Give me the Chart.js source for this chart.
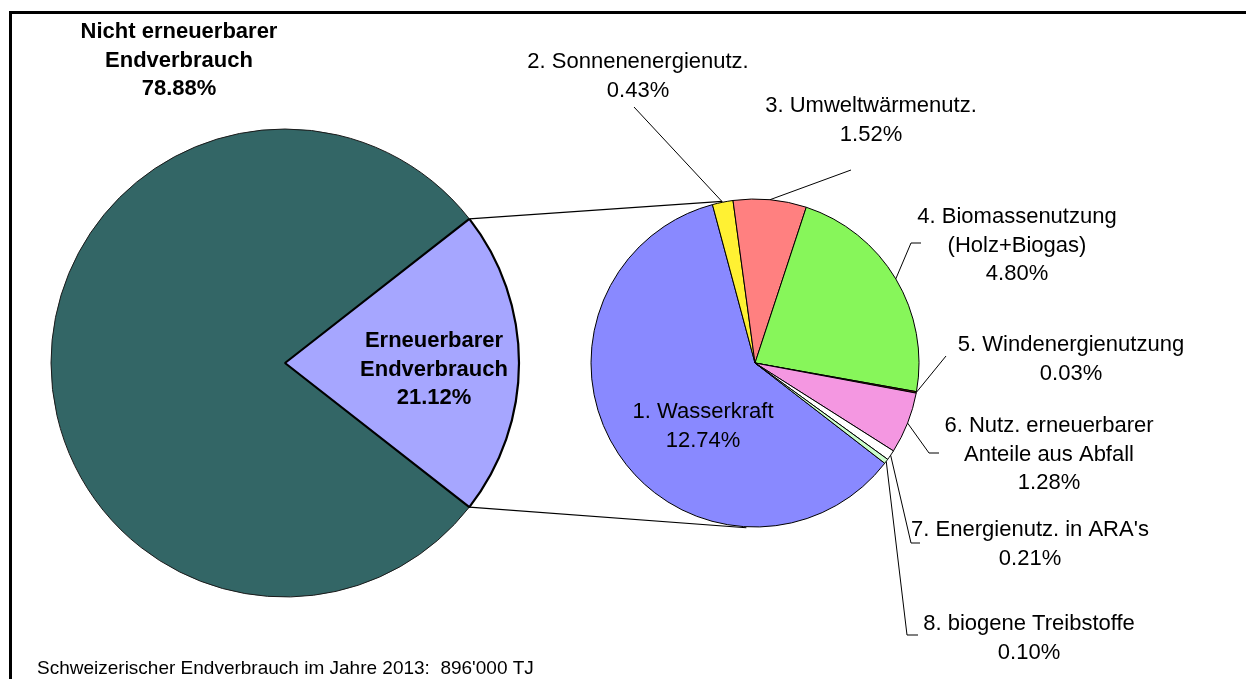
<!DOCTYPE html>
<html lang="de">
<head>
<meta charset="utf-8">
<title>Erneuerbarer Endverbrauch 2013</title>
<script src="https://cdn.jsdelivr.net/npm/chart.js@4/dist/chart.umd.min.js"></script>
<style>
  html, body { margin: 0; padding: 0; background: #ffffff; }
  #stage { position: relative; width: 1246px; height: 679px; overflow: hidden; }
  #stage canvas { position: absolute; left: 0; top: 0; }
</style>
</head>
<body>
<div id="stage">
  <canvas id="totalPie" width="1246" height="679"></canvas>
  <canvas id="renewPie" width="1246" height="679"></canvas>
</div>
<script>
// Overall final energy consumption split (percent of total)
const totalCategories = [['Nicht erneuerbarer', 'Endverbrauch'], ['Erneuerbarer', 'Endverbrauch']];
const totalShares = [78.88, 21.12];
const totalColors = ['#336666', '#A6A6FF'];

// Breakdown of the renewable part (percent of total)
const renewCategories = [
  ['1. Wasserkraft'],
  ['2. Sonnenenergienutz.'],
  ['3. Umweltwärmenutz.'],
  ['4. Biomassenutzung', '(Holz+Biogas)'],
  ['5. Windenergienutzung'],
  ['6. Nutz. erneuerbarer', 'Anteile aus Abfall'],
  ["7. Energienutz. in ARA's"],
  ['8. biogene Treibstoffe']
];
const renewShares = [12.74, 0.43, 1.52, 4.80, 0.03, 1.28, 0.21, 0.10];
const renewColors = ['#8989FF', '#FFF133', '#FF8080', '#87F65A', '#8B2500', '#F497E1', '#FFFFFF', '#CCFFCC'];

const footnote = "Schweizerischer Endverbrauch im Jahre 2013:  896'000 TJ";

const FONT = "'Liberation Sans', Arial, sans-serif";
const LINE_H = 28.7;

// Label anchor points (centre of first text line)
const totalLabelSpots = [[179, 32], [434, 341]];
const renewLabelSpots = [[703, 412], [638, 62], [871, 106], [1017, 217], [1071, 345], [1049, 426], [1030, 530], [1029, 624]];
// Leader line bends, from the slice edge towards its label
const renewLeaders = [
  null,
  [[634, 107]],
  [[851, 170]],
  [[911, 243], [921, 243]],
  [[946, 356]],
  [[929, 453], [939, 453]],
  [[911, 543], [920, 543]],
  [[907, 635], [918, 635]]
];

const pct = v => v.toFixed(2) + '%';

function drawLines(ctx, lines, x, y) {
  lines.forEach((t, i) => ctx.fillText(t, x, y + i * LINE_H));
}

function sumOf(arr) { return arr.reduce((a, b) => a + b, 0); }

// Overall pie: the renewable slice is centred on the right-hand side
const totalChart = new Chart(document.getElementById('totalPie'), {
  type: 'pie',
  data: {
    labels: totalCategories,
    datasets: [{
      data: totalShares,
      backgroundColor: totalColors,
      borderColor: ['#1a1a1a', '#000000'],
      borderWidth: [1, 2.2]
    }]
  },
  options: {
    responsive: false,
    animation: false,
    events: [],
    radius: 234,
    rotation: 90 + totalShares[1] * 360 / sumOf(totalShares) / 2,
    layout: { padding: { left: 0, right: 676, top: 63, bottom: 16 } },
    plugins: { legend: { display: false }, tooltip: { enabled: false } }
  }
});

const annotations = {
  id: 'annotations',
  beforeDatasetsDraw(chart) {
    const ctx = chart.ctx;
    ctx.save();
    // frame
    ctx.fillStyle = '#000';
    ctx.fillRect(9, 11, 1246, 3);
    ctx.fillRect(9, 11, 3, 679);

    // connectors from the renewable slice to the breakdown pie
    const big = totalChart.getDatasetMeta(0).data[1];
    const bp = big.getProps(['x', 'y', 'startAngle', 'endAngle', 'outerRadius'], true);
    const small = chart.getDatasetMeta(0).data[0];
    const sp = small.getProps(['x', 'y', 'outerRadius'], true);
    const onSmall = deg => {
      const a = (deg - 90) * Math.PI / 180;
      return [sp.x + (sp.outerRadius + 1) * Math.cos(a), sp.y + (sp.outerRadius + 1) * Math.sin(a)];
    };
    const t = onSmall(-11.5), b = onSmall(183);
    ctx.strokeStyle = '#000';
    ctx.lineWidth = 1.2;
    ctx.beginPath();
    ctx.moveTo(bp.x + bp.outerRadius * Math.cos(bp.startAngle), bp.y + bp.outerRadius * Math.sin(bp.startAngle));
    ctx.lineTo(t[0], t[1]);
    ctx.moveTo(bp.x + bp.outerRadius * Math.cos(bp.endAngle), bp.y + bp.outerRadius * Math.sin(bp.endAngle));
    ctx.lineTo(b[0], b[1]);
    ctx.stroke();
    ctx.restore();
  },
  afterDraw(chart) {
    const ctx = chart.ctx;
    ctx.save();
    ctx.fillStyle = '#000';
    ctx.strokeStyle = '#000';
    ctx.lineWidth = 1;
    ctx.textAlign = 'center';
    ctx.textBaseline = 'middle';

    // leader lines
    const arcs = chart.getDatasetMeta(0).data;
    arcs.forEach((arc, i) => {
      const path = renewLeaders[i];
      if (!path) return;
      const p = arc.getProps(['x', 'y', 'startAngle', 'endAngle', 'outerRadius'], true);
      const mid = (p.startAngle + p.endAngle) / 2;
      ctx.beginPath();
      ctx.moveTo(p.x + p.outerRadius * Math.cos(mid), p.y + p.outerRadius * Math.sin(mid));
      path.forEach(pt => ctx.lineTo(pt[0], pt[1]));
      ctx.stroke();
    });

    // overall labels
    ctx.font = 'bold 22px ' + FONT;
    totalCategories.forEach((lines, i) => {
      const [x, y] = totalLabelSpots[i];
      drawLines(ctx, [...lines, pct(totalShares[i])], x, y);
    });

    // breakdown labels
    ctx.font = '22px ' + FONT;
    renewCategories.forEach((lines, i) => {
      const [x, y] = renewLabelSpots[i];
      drawLines(ctx, [...lines, pct(renewShares[i])], x, y);
    });

    // footnote
    ctx.textAlign = 'left';
    ctx.font = '19px ' + FONT;
    ctx.fillText(footnote, 37, 669);
    ctx.restore();
  }
};

// Breakdown pie of the renewable part
new Chart(document.getElementById('renewPie'), {
  type: 'pie',
  data: {
    labels: renewCategories,
    datasets: [{
      data: renewShares,
      backgroundColor: renewColors,
      borderColor: '#000000',
      borderWidth: 1
    }]
  },
  options: {
    responsive: false,
    animation: false,
    events: [],
    radius: 164,
    rotation: 127.7,
    layout: { padding: { left: 555, right: 291, top: 163, bottom: 116 } },
    plugins: { legend: { display: false }, tooltip: { enabled: false } }
  },
  plugins: [annotations]
});
</script>
</body>
</html>
